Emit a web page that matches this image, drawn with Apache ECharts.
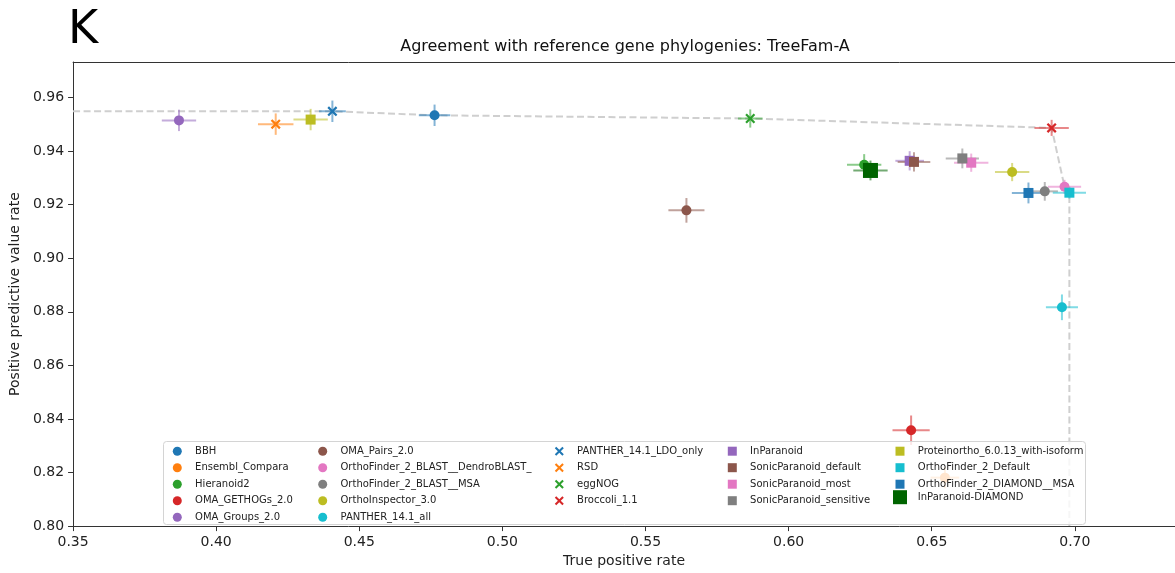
<!DOCTYPE html>
<html>
<head>
<meta charset="utf-8">
<script src="https://cdn.jsdelivr.net/npm/echarts@6/dist/echarts.min.js"></script>
<style>
  html, body { margin: 0; padding: 0; background: #fff; }
  #chart { width: 1175px; height: 573px; }
</style>
</head>
<body>
<div id="chart"></div>
<script>
// Orthology benchmark: TreeFam-A reference gene phylogenies
const methods = [
  'BBH', 'Ensembl_Compara', 'Hieranoid2', 'OMA_GETHOGs_2.0', 'OMA_Groups_2.0',
  'OMA_Pairs_2.0', 'OrthoFinder_2_BLAST__DendroBLAST_', 'OrthoFinder_2_BLAST__MSA',
  'OrthoInspector_3.0', 'PANTHER_14.1_all',
  'PANTHER_14.1_LDO_only', 'RSD', 'eggNOG', 'Broccoli_1.1',
  'InParanoid', 'SonicParanoid_default', 'SonicParanoid_most', 'SonicParanoid_sensitive',
  'Proteinortho_6.0.13_with-isoform', 'OrthoFinder_2_Default', 'OrthoFinder_2_DIAMOND__MSA',
  'InParanoid-DIAMOND'
];
const truePositiveRate = [
  0.4763, 0.6546, 0.6264, 0.6428, 0.3870,
  0.5643, 0.6964, 0.6895, 0.6781, 0.6955,
  0.4406, 0.4208, 0.5866, 0.6919,
  0.6423, 0.6438, 0.6638, 0.6607,
  0.4330, 0.6981, 0.6838,
  0.6286
];
const positivePredictiveValue = [
  0.9534, 0.8181, 0.9349, 0.8358, 0.9515,
  0.9179, 0.9267, 0.9250, 0.9322, 0.8817,
  0.9549, 0.9501, 0.9522, 0.9487,
  0.9364, 0.9360, 0.9357, 0.9373,
  0.9518, 0.9245, 0.9244,
  0.9328
];
const tprError = [
  0.0055, 0.0050, 0.0060, 0.0065, 0.0060,
  0.0063, 0.0058, 0.0046, 0.0060, 0.0056,
  0.0047, 0.0062, 0.0043, 0.0060,
  0.0050, 0.0057, 0.0060, 0.0058,
  0.0060, 0.0058, 0.0058,
  0.0060
];
const ppvError = [
  0.0040, 0.0040, 0.0040, 0.0055, 0.0040,
  0.0046, 0.0026, 0.0035, 0.0034, 0.0048,
  0.0040, 0.0040, 0.0034, 0.0030,
  0.0036, 0.0036, 0.0034, 0.0037,
  0.0040, 0.0022, 0.0039,
  0.0037
];
const xTicks = [0.35, 0.40, 0.45, 0.50, 0.55, 0.60, 0.65, 0.70];
const yTicks = [0.80, 0.82, 0.84, 0.86, 0.88, 0.90, 0.92, 0.94, 0.96];

// tab10 palette and marker families
const TAB = {
  blue: '#1f77b4', orange: '#ff7f0e', green: '#2ca02c', red: '#d62728', purple: '#9467bd',
  brown: '#8c564b', pink: '#e377c2', gray: '#7f7f7f', olive: '#bcbd22', cyan: '#17becf'
};
const colors = [
  TAB.blue, TAB.orange, TAB.green, TAB.red, TAB.purple,
  TAB.brown, TAB.pink, TAB.gray, TAB.olive, TAB.cyan,
  TAB.blue, TAB.orange, TAB.green, TAB.red,
  TAB.purple, TAB.brown, TAB.pink, TAB.gray,
  TAB.olive, TAB.cyan, TAB.blue,
  '#006400'
];
const CROSS = 'path://M0,1.6L1.6,0L5,3.4L8.4,0L10,1.6L6.6,5L10,8.4L8.4,10L5,6.6L1.6,10L0,8.4L3.4,5Z';
const SQUARE = 'path://M0,0L10,0L10,10L0,10Z';
function markerOf(i) {
  if (i < 10) return { symbol: 'circle', size: 10 };
  if (i < 14) return { symbol: CROSS, size: 10 };
  if (i < 21) return { symbol: SQUARE, size: 10 };
  return { symbol: SQUARE, size: 15 };
}

const FONT = '"DejaVu Sans", "Liberation Sans", sans-serif';
const X_MIN = 0.35, X_MAX = 0.735, Y_MIN = 0.80, Y_MAX = 0.9733;

// Pareto frontier of the (TPR, PPV) points
function paretoFrontier() {
  const idx = methods.map((_, i) => i)
    .sort((a, b) => truePositiveRate[b] - truePositiveRate[a]);
  const front = [];
  let best = -Infinity;
  idx.forEach(i => {
    if (positivePredictiveValue[i] > best) {
      best = positivePredictiveValue[i];
      front.push([truePositiveRate[i], positivePredictiveValue[i]]);
    }
  });
  front.reverse();
  const first = front[0], last = front[front.length - 1];
  return [[X_MIN, first[1]], ...front, [last[0], Y_MIN]];
}

const errorBars = {
  type: 'custom',
  silent: true,
  z: 2,
  clip: true,
  data: methods.map((_, i) => [truePositiveRate[i], positivePredictiveValue[i], tprError[i], ppvError[i], i]),
  encode: { x: 0, y: 1 },
  renderItem: function (params, api) {
    const x = api.value(0), y = api.value(1), ex = api.value(2), ey = api.value(3);
    const c = colors[api.value(4)];
    const l = api.coord([x - ex, y]), r = api.coord([x + ex, y]);
    const b = api.coord([x, y - ey]), t = api.coord([x, y + ey]);
    const style = { stroke: c, lineWidth: 2, opacity: 0.55 };
    return {
      type: 'group',
      children: [
        { type: 'line', shape: { x1: l[0], y1: l[1], x2: r[0], y2: r[1] }, style: style },
        { type: 'line', shape: { x1: b[0], y1: b[1], x2: t[0], y2: t[1] }, style: style }
      ]
    };
  }
};

const frontier = {
  type: 'line',
  data: paretoFrontier(),
  symbol: 'none',
  silent: true,
  z: 1,
  lineStyle: { color: '#cfcfcf', width: 2, type: [7, 3.5] }
};

const pointSeries = methods.map((name, i) => {
  const m = markerOf(i);
  return {
    type: 'scatter',
    name: name,
    data: [[truePositiveRate[i], positivePredictiveValue[i]]],
    symbol: m.symbol,
    symbolSize: m.size,
    symbolKeepAspect: true,
    itemStyle: { color: colors[i], opacity: 1 },
    z: 3,
    emphasis: { disabled: true }
  };
});

// legend laid out in five columns (marker centre, first row centre)
const legendColumns = [
  { names: methods.slice(0, 5), cx: 177.3, h: 9 },
  { names: methods.slice(5, 10), cx: 322.7, h: 9 },
  { names: methods.slice(10, 14), cx: 559.3, h: 9 },
  { names: methods.slice(14, 18), cx: 732.3, h: 9 },
  { names: methods.slice(18, 21), cx: 900.0, h: 9 }
];
const ROW0 = 450.7, ROW_STEP = 15.5, TEXT_OFFSET = 17.8;
function legendBlock(names, cx, h, rowStart) {
  return {
    orient: 'vertical',
    left: cx - h / 2,
    top: ROW0 + rowStart * ROW_STEP - h / 2,
    padding: 0,
    itemWidth: h,
    itemHeight: h,
    itemGap: ROW_STEP - h,
    selectedMode: false,
    symbolKeepAspect: true,
    z: 5,
    textStyle: {
      fontFamily: FONT, fontSize: 10, color: '#222',
      padding: [0, 0, 0, TEXT_OFFSET - h / 2 - 5]
    },
    data: names.map(n => ({ name: n, icon: markerOf(methods.indexOf(n)).symbol }))
  };
}
const legends = legendColumns.map(col => legendBlock(col.names, col.cx, col.h, 0));
legends.push(legendBlock([methods[21]], 900.0, 14, 3));

const chart = echarts.init(document.getElementById('chart'), null, { renderer: 'canvas' });
chart.setOption({
  animation: false,
  backgroundColor: '#ffffff',
  grid: { left: 72, top: 62, right: -3, bottom: 41, containLabel: false },
  xAxis: [{
    type: 'value',
    min: X_MIN, max: X_MAX, interval: 0.05,
    name: 'True positive rate',
    nameLocation: 'middle',
    nameGap: 27,
    nameTextStyle: { fontFamily: FONT, fontSize: 14, color: '#222' },
    axisLine: { show: true, lineStyle: { color: '#333', width: 1 } },
    axisTick: { show: true, length: 5, lineStyle: { color: '#333' } },
    axisLabel: {
      margin: 9, fontFamily: FONT, fontSize: 14, color: '#222', showMaxLabel: false,
      formatter: v => (xTicks.some(t => Math.abs(t - v) < 1e-9) ? v.toFixed(2) : '')
    },
    splitLine: { show: false }
  }, {
    type: 'value', position: 'top',
    min: X_MIN, max: X_MAX,
    axisLine: { show: true, onZero: false, lineStyle: { color: '#333', width: 1 } },
    axisTick: { show: false }, axisLabel: { show: false }, splitLine: { show: false }
  }],
  yAxis: {
    type: 'value',
    min: Y_MIN, max: Y_MAX, interval: 0.02,
    name: 'Positive predictive value rate',
    nameLocation: 'middle',
    nameGap: 46,
    nameTextStyle: { fontFamily: FONT, fontSize: 14, color: '#222' },
    axisLine: { show: true, lineStyle: { color: '#333', width: 1 } },
    axisTick: { show: true, length: 5, lineStyle: { color: '#333' } },
    axisLabel: {
      margin: 9, fontFamily: FONT, fontSize: 14, color: '#222', showMaxLabel: false,
      formatter: v => (yTicks.some(t => Math.abs(t - v) < 1e-9) ? v.toFixed(2) : '')
    },
    splitLine: { show: false }
  },
  legend: legends,
  graphic: [
    {
      type: 'text', left: 68, top: 8, z: 10,
      style: { text: 'K', fontFamily: FONT, fontSize: 46, fill: '#000' }
    },
    {
      type: 'text', x: 625, y: 47, z: 10,
      style: {
        text: 'Agreement with reference gene phylogenies: TreeFam-A',
        fontFamily: FONT, fontSize: 16, fill: '#111',
        align: 'center', verticalAlign: 'middle'
      }
    },
    {
      type: 'rect', z: 4,
      shape: { x: 163.5, y: 441.5, width: 922, height: 83, r: 3 },
      style: { fill: 'rgba(255,255,255,0.8)', stroke: '#d4d4d4', lineWidth: 1 }
    }
  ],
  series: [frontier, errorBars, ...pointSeries]
});
</script>
</body>
</html>
